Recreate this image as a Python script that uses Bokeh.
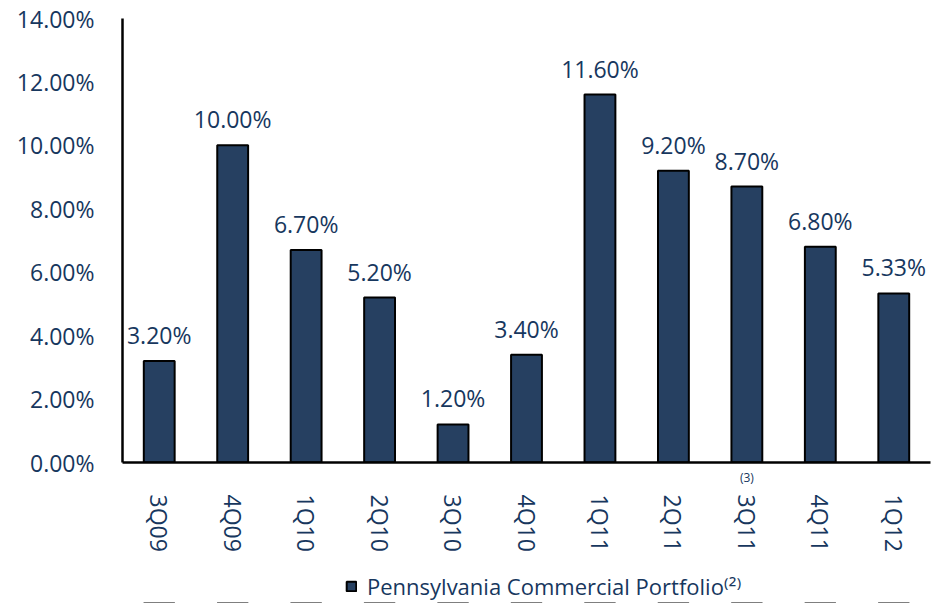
from bokeh.plotting import figure
from bokeh.layouts import column
from bokeh.models import (ColumnDataSource, Range1d, PrintfTickFormatter,
                          FixedTicker, Legend, LegendItem, LinearAxis)
from bokeh.embed import file_html
from bokeh.resources import INLINE
from bokeh.core.properties import value
import math

quarters = ["3Q09", "4Q09", "1Q10", "2Q10", "3Q10", "4Q10", "1Q11", "2Q11", "3Q11", "4Q11", "1Q12"]
rates = [3.20, 10.00, 6.70, 5.20, 1.20, 3.40, 11.60, 9.20, 8.70, 6.80, 5.33]
y_ticks = [0, 2, 4, 6, 8, 10, 12, 14]
footnote_quarter = "3Q11"
footnote_mark = "(3)"
series_name = "Pennsylvania Commercial Portfolio\u207d\u00b2\u207e"

TEXT = "#17375E"
BAR = "#264061"
FONT = "Open Sans"
bar_style = dict(width=0.42, fill_color=BAR, line_color="black", line_width=2)

pos = [i + 0.5 for i in range(len(quarters))]   # slot centres on a numeric axis
src = ColumnDataSource(dict(x=pos, v=rates, lab=["%.2f%%" % r for r in rates]))

p = figure(width=935, height=560, x_range=Range1d(0, len(quarters)), y_range=Range1d(0, 14),
           output_backend="svg", toolbar_location=None, x_axis_location=None,
           min_border_left=122, min_border_right=5, min_border_top=18, min_border_bottom=98)
p.outline_line_color = None
p.xgrid.grid_line_color = None
p.ygrid.grid_line_color = None

bars = p.vbar(x="x", top="v", source=src, **bar_style)

p.text(x="x", y="v", text="lab", source=src, y_offset=-10, text_align="center",
       text_baseline="bottom", text_font=value(FONT), text_font_size="23px", text_color=TEXT)

# x axis line + footnote mark
fn_pos = pos[quarters.index(footnote_quarter)]
ax_a = LinearAxis(axis_line_color="black", axis_line_width=2.5,
                  ticker=FixedTicker(ticks=[fn_pos], minor_ticks=[]),
                  major_tick_line_color=None, minor_tick_line_color=None,
                  major_label_text_font=FONT, major_label_text_font_size="12px",
                  major_label_text_color=TEXT, major_label_standoff=0,
                  major_label_overrides={fn_pos: footnote_mark})
p.add_layout(ax_a, "below")
# quarter labels
ax_b = LinearAxis(axis_line_color=None,
                  ticker=FixedTicker(ticks=pos, minor_ticks=[]),
                  major_tick_line_color=None, minor_tick_line_color=None,
                  major_label_text_font=FONT, major_label_text_font_size="23px",
                  major_label_text_color=TEXT, major_label_standoff=0,
                  major_label_orientation=-math.pi / 2,
                  major_label_overrides={x: q for x, q in zip(pos, quarters)})
p.add_layout(ax_b, "below")

ya = p.yaxis[0]
ya.axis_line_color = "black"
ya.axis_line_width = 2.5
ya.major_tick_line_color = None
ya.minor_tick_line_color = None
ya.major_label_text_font = FONT
ya.major_label_text_font_size = "23px"
ya.major_label_text_color = TEXT
ya.ticker = FixedTicker(ticks=y_ticks)
ya.formatter = PrintfTickFormatter(format="%.2f%%")
ya.major_label_standoff = 22

# legend strip (key glyph shares the bar style; its bars lie far below this strip's view)
lf = figure(width=935, height=43, x_range=Range1d(0, len(quarters)), y_range=Range1d(500, 501),
            output_backend="svg", toolbar_location=None, x_axis_location=None,
            y_axis_location=None, min_border=0)
lf.outline_line_color = None
lf.xgrid.grid_line_color = None
lf.ygrid.grid_line_color = None
key = lf.vbar(x="x", top="v", source=src, **bar_style)
legend = Legend(items=[LegendItem(label=series_name, renderers=[key])],
                location=(223, 2), orientation="horizontal",
                glyph_width=12, glyph_height=12, label_standoff=10,
                padding=0, margin=0, border_line_color=None, background_fill_alpha=0,
                label_text_font=FONT, label_text_font_size="22px", label_text_color=TEXT)
lf.add_layout(legend, "center")

open("out.html", "w").write(file_html(column(p, lf, spacing=0), INLINE))
